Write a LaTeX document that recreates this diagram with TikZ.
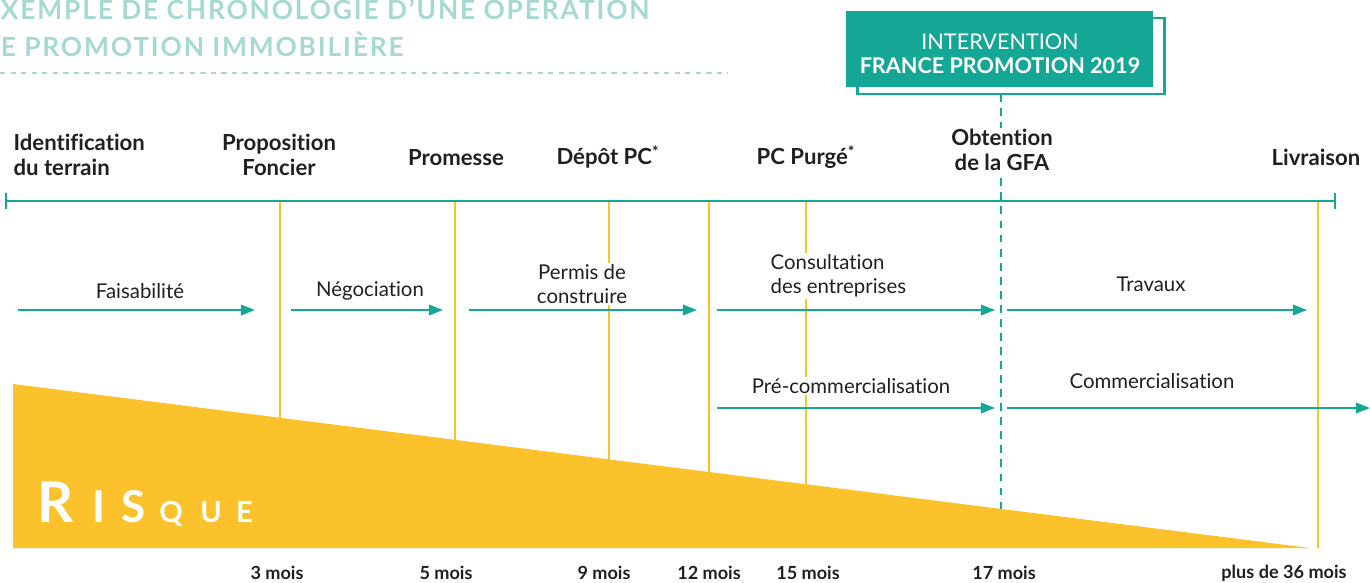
\documentclass[tikz,border=0pt]{standalone}
\usepackage{fontspec}
\setmainfont[Ligatures=NoCommon]{Lato}
\newfontfamily\titlefont[LetterSpace=7]{Lato}
\usetikzlibrary{arrows.meta}

\definecolor{fpteal}{HTML}{14A795}
\definecolor{fplight}{HTML}{A7D9D3}
\definecolor{fpyellow}{HTML}{FCC22B}
\definecolor{fpink}{HTML}{231F20}

\def\px{0.02cm}

\begin{document}
\begin{tikzpicture}[x=\px,y=-\px,line width=1pt]
    \tikzstyle{milestone}=[font=\bfseries\fontsize{12.6}{14}\selectfont,text=fpink,align=center,fill=white,inner sep=1pt]
    \tikzstyle{phase}=[font=\fontsize{11.6}{13.8}\selectfont,text=fpink,align=center,fill=white,inner sep=1pt]
    \tikzstyle{month}=[font=\bfseries\fontsize{10.3}{12}\selectfont,text=fpink,inner sep=0pt]
    \tikzstyle{flow}=[draw=fpteal,line width=1.1pt,-{Triangle[length=8pt,width=6pt]}]
    \tikzstyle{monthline}=[draw=fpyellow,line width=0.9pt]
    \tikzstyle{ibox}=[rectangle,minimum width=307*\px,minimum height=76*\px,inner sep=0pt]

    \useasboundingbox (0,0) rectangle (1370,582);

    % Title
    \node[anchor=base west,inner sep=0pt,text=fplight] (title-1) at (0,19.5)
        {\titlefont\bfseries\fontsize{15}{18}\selectfont XEMPLE DE CHRONOLOGIE D’UNE OPÉRATION};
    \node[anchor=base west,inner sep=0pt,text=fplight] (title-2) at (0,56)
        {\titlefont\bfseries\fontsize{15}{18}\selectfont E PROMOTION IMMOBILIÈRE};
    \coordinate (rule-a) at (0,73);
    \coordinate (rule-b) at (728,73);
    \draw[fplight,line width=0.6pt,dash pattern=on 3pt off 3pt] (rule-a) -- (rule-b);

    % Milestone marks
    \foreach \name / \x in {3/280,5/455,9/609,12/709,15/806,36/1318}{
        \coordinate (top-\name) at (\x,201);
        \coordinate (low-\name) at (\x,548);
        \draw[monthline] (top-\name) -- (low-\name);
    }

    % Intervention box
    \node[ibox,draw=fpteal,line width=1.4pt,fill=white] (shadow) at (1011,56) {};
    \node[ibox,fill=fpteal] (inter) at (999.5,49) {};
    \node[text=white,align=center,font=\fontsize{12.3}{13.6}\selectfont] (inter-text) at (1000,54)
        {INTERVENTION\\\textbf{FRANCE PROMOTION 2019}};
    \coordinate (gfa-top) at (1001,94);
    \coordinate (gfa-low) at (1001,509);
    \draw[fpteal,line width=1.1pt,dash pattern=on 4.5pt off 3.5pt] (gfa-top) -- (gfa-low);

    % Timeline
    \coordinate (start) at (6,201);
    \coordinate (end) at (1335,201);
    \draw[fpteal,line width=1.2pt] (start) -- (end);
    \draw[fpteal,line width=0.9pt] ([yshift=-8*\px]start) -- ([yshift=8*\px]start);
    \draw[fpteal,line width=0.9pt] ([yshift=-8*\px]end) -- ([yshift=8*\px]end);

    % Risk wedge
    \fill[fpyellow] (13,384) -- (13,548) -- (1310,548) -- cycle;
    \node[anchor=base west,inner sep=0pt,text=white,font=\bfseries] (risk) at (37,522)
        {\fontsize{32}{34}\selectfont R\kern 10.5pt\fontsize{25}{27}\selectfont I\kern 9pt S\kern 8pt\fontsize{16.5}{18}\selectfont Q\kern 10pt U\kern 8pt E};

    % Phase arrows
    \foreach \i / \xa / \xb / \y in {1/18/255/310, 2/291/443/310, 3/469/697/310, 4/717/995/310,
                                     5/1007/1307/310, 6/717/995/408, 7/1007/1370/408}{
        \coordinate (A-\i a) at (\xa,\y);
        \coordinate (A-\i b) at (\xb,\y);
        \draw[flow] (A-\i a) -- (A-\i b);
    }
    \node[phase] (L-1) at (140,291) {Faisabilité};
    \node[phase] (L-2) at (370,291) {Négociation};
    \node[phase] (L-3) at (582,284) {Permis de\\construire};
    \node[phase,anchor=west,align=left] (L-4) at (768,276) {Consultation\\des entreprises};
    \node[phase] (L-5) at (1151,284) {Travaux};
    \node[phase] (L-6) at (851,386) {Pré-commercialisation};
    \node[phase] (L-7) at (1152,381) {Commercialisation};

    % Milestones
    \node[milestone,anchor=west,align=left] (M-1) at (11,155) {Identification\\du terrain};
    \node[milestone] (M-2) at (279,155) {Proposition\\Foncier};
    \node[milestone] (M-3) at (456,158) {Promesse};
    \node[milestone] (M-4) at (608,157) {Dépôt PC\textsuperscript{*}};
    \node[milestone] (M-5) at (806,157) {PC Purgé\textsuperscript{*}};
    \node[milestone] (M-6) at (1002,150) {Obtention\\de la GFA};
    \node[milestone] (M-7) at (1316,157) {Livraison};

    % Durations
    \node[month] (T-1) at (277,573) {3 mois};
    \node[month] (T-2) at (446,573) {5 mois};
    \node[month] (T-3) at (604,573) {9 mois};
    \node[month] (T-4) at (709,573) {12 mois};
    \node[month] (T-5) at (808,573) {15 mois};
    \node[month] (T-6) at (1004,573) {17 mois};
    \node[month] (T-7) at (1284,573) {plus de 36 mois};
\end{tikzpicture}
\end{document}
